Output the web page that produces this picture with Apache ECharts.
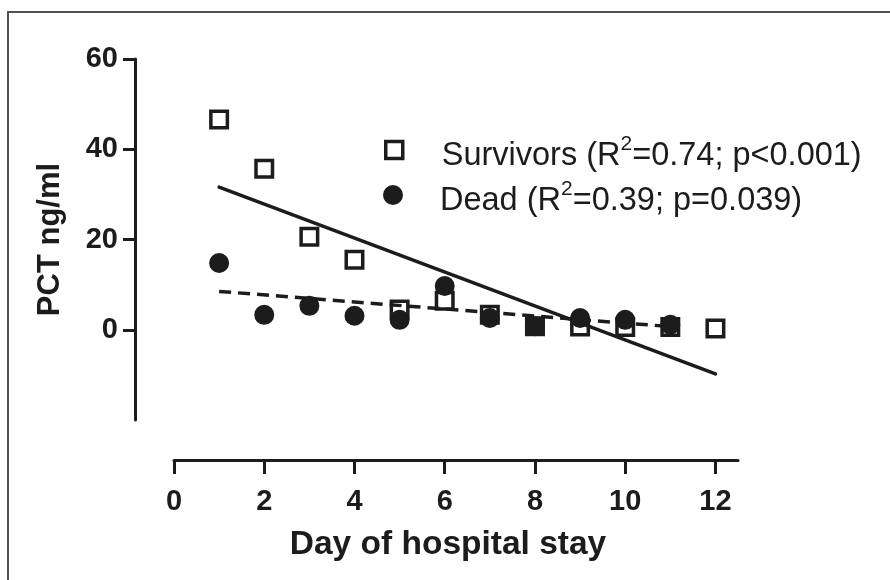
<!DOCTYPE html>
<html><head><meta charset="utf-8">
<script src="https://cdn.jsdelivr.net/npm/echarts@6/dist/echarts.min.js"></script>
<style>html,body{margin:0;padding:0;background:#fff}#c{width:890px;height:580px}</style>
</head><body><div id="c"></div>
<script>
// ---- data ----
const days = [1, 2, 3, 4, 5, 6, 7, 8, 9, 10, 11, 12];
const survivors = [46.6, 35.7, 20.6, 15.5, 4.5, 6.4, 3.3, 0.8, 0.7, 0.6, 0.6, 0.3];
const deadDays = [1, 2, 3, 4, 5, 6, 7, 8, 9, 10, 11];
const dead = [14.8, 3.3, 5.3, 3.1, 2.2, 9.7, 2.6, 0.8, 2.6, 2.2, 1.1];
const survivorsFitDays = [1, 12];
const survivorsFit = [31.6, -9.8];
const deadFitDays = [1, 11];
const deadFit = [8.5, 0.7];
const xTicks = [0, 2, 4, 6, 8, 10, 12];
const yTicks = [0, 20, 40, 60];
const survivorsText = ['Survivors (R', '2', '=0.74; p<0.001)'];
const deadText = ['Dead (R', '2', '=0.39; p=0.039)'];

const INK = '#1c1c1c';
const FONT = '"Liberation Sans", Arial, Helvetica, sans-serif';
const pair = (xs, ys) => xs.map((x, i) => [x, ys[i]]);

const richFor = gap => ({
  g: { width: gap, padding: [13, 0, 0, 0], lineHeight: 38 },
  a: { fontSize: 32.5, fontFamily: FONT, color: INK, lineHeight: 38, padding: [13, 0, 0, 0] },
  s: { fontSize: 21, fontFamily: FONT, color: INK, lineHeight: 22, padding: [0, 0, 11, 0] }
});
const fmt = t => '{g|}{a|' + t[0] + '}{s|' + t[1] + '}{a|' + t[2] + '}';

const chart = echarts.init(document.getElementById('c'), null, { renderer: 'canvas' });
chart.setOption({
  animation: false,
  backgroundColor: '#fff',
  graphic: [{
    type: 'rect', silent: true,
    shape: { x: 8, y: 12, width: 900, height: 600 },
    style: { fill: 'none', stroke: '#505050', lineWidth: 2 }
  }],
  grid: { left: 174, right: 152, top: 59, bottom: 160 },
  xAxis: {
    type: 'value', min: 0, max: 12.5, interval: 2, offset: 40,
    name: 'Day of hospital stay', nameLocation: 'middle', nameGap: 68,
    nameTextStyle: { fontSize: 33.5, fontWeight: 'bold', fontFamily: FONT, color: INK, padding: [0, 16, 0, 0] },
    axisLine: { onZero: false, lineStyle: { color: INK, width: 3 } },
    axisTick: { length: 14, lineStyle: { color: INK, width: 3 }, customValues: xTicks },
    axisLabel: { fontSize: 29, fontWeight: 'bold', fontFamily: FONT, color: INK, margin: 27, customValues: xTicks },
    splitLine: { show: false }
  },
  yAxis: {
    type: 'value', min: -20, max: 60, interval: 20, offset: 39,
    name: 'PCT ng/ml', nameLocation: 'middle', nameGap: 69,
    nameTextStyle: { fontSize: 31, fontWeight: 'bold', fontFamily: FONT, color: INK },
    axisLine: { show: true, onZero: false, lineStyle: { color: INK, width: 3 } },
    axisTick: { show: true, length: 12, lineStyle: { color: INK, width: 3 }, customValues: yTicks },
    axisLabel: { fontSize: 29, fontWeight: 'bold', fontFamily: FONT, color: INK, margin: 17, customValues: yTicks },
    splitLine: { show: false }
  },
  legend: [{
    data: [{ name: 'Survivors', icon: 'rect', itemStyle: { color: 'rgba(0,0,0,0)', borderColor: INK, borderWidth: 3.5, opacity: 1 } }],
    orient: 'vertical', left: 384, top: 127, padding: 0, itemWidth: 17, itemHeight: 17,
    formatter: () => fmt(survivorsText), textStyle: { rich: richFor(34) }, selectedMode: false
  }, {
    data: [{ name: 'Dead', icon: 'circle', itemStyle: { color: INK, borderWidth: 0, opacity: 1 } }],
    orient: 'vertical', left: 383, top: 172, padding: 0, itemWidth: 20, itemHeight: 20,
    formatter: () => fmt(deadText), textStyle: { rich: richFor(32) }, selectedMode: false
  }],
  series: [{
    name: 'Survivors', type: 'scatter', symbol: 'rect', symbolSize: 16.5, z: 2,
    itemStyle: { color: 'rgba(0,0,0,0)', borderColor: INK, borderWidth: 3.5, opacity: 1 },
    emphasis: { disabled: true },
    data: pair(days, survivors)
  }, {
    name: 'SurvivorsFit', type: 'line', symbol: 'none', z: 3,
    lineStyle: { color: INK, width: 3.5, cap: 'round' },
    emphasis: { disabled: true },
    data: pair(survivorsFitDays, survivorsFit)
  }, {
    name: 'DeadFit', type: 'line', symbol: 'none', z: 3,
    lineStyle: { color: INK, width: 3.5, type: [12, 7] },
    emphasis: { disabled: true },
    data: pair(deadFitDays, deadFit)
  }, {
    name: 'Dead', type: 'scatter', symbol: 'circle', symbolSize: 20, z: 4,
    itemStyle: { color: INK, opacity: 1 },
    emphasis: { disabled: true },
    data: pair(deadDays, dead)
  }]
});
</script>
</body></html>
